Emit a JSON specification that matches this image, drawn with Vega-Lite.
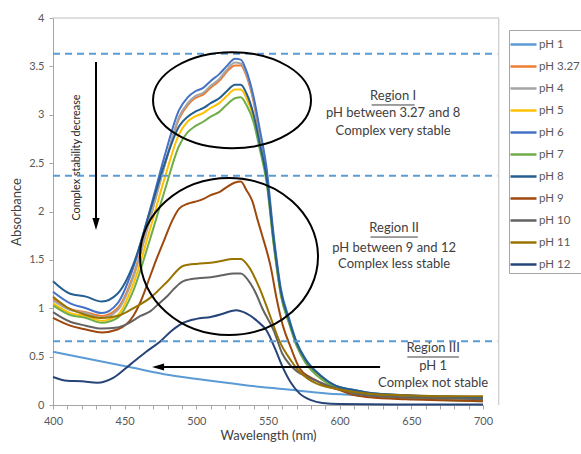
{
  "$schema": "https://vega.github.io/schema/vega-lite/v6.json",
  "width": 430,
  "height": 387,
  "autosize": "none",
  "padding": {"left": 53, "top": 18, "right": 98, "bottom": 49},
  "background": "white",
  "config": {"view": {"stroke": null}, "font": "Lato"},
  "resolve": {"axis": {"x": "independent", "y": "independent"}},
  "datasets": {
    "spectra": [
      {"s":"pH 1","w":400,"a":0.55},{"s":"pH 1","w":427,"a":0.47},{"s":"pH 1","w":454,"a":0.39},{"s":"pH 1","w":481,"a":0.31},{"s":"pH 1","w":510,"a":0.25},{"s":"pH 1","w":537,"a":0.2},{"s":"pH 1","w":564,"a":0.16},{"s":"pH 1","w":591,"a":0.12},{"s":"pH 1","w":619,"a":0.1},{"s":"pH 1","w":673,"a":0.08},{"s":"pH 1","w":700,"a":0.07},

      {"s":"pH 3.27","w":400,"a":1.1},{"s":"pH 3.27","w":412,"a":0.99},{"s":"pH 3.27","w":423,"a":0.96},{"s":"pH 3.27","w":434,"a":0.92},{"s":"pH 3.27","w":445,"a":1.0},{"s":"pH 3.27","w":456,"a":1.34},{"s":"pH 3.27","w":467,"a":1.9},{"s":"pH 3.27","w":478,"a":2.48},{"s":"pH 3.27","w":488,"a":2.96},{"s":"pH 3.27","w":494,"a":3.1},{"s":"pH 3.27","w":499,"a":3.17},{"s":"pH 3.27","w":505,"a":3.21},{"s":"pH 3.27","w":510,"a":3.28},{"s":"pH 3.27","w":516,"a":3.35},{"s":"pH 3.27","w":521,"a":3.44},{"s":"pH 3.27","w":527,"a":3.51},{"s":"pH 3.27","w":531,"a":3.51},{"s":"pH 3.27","w":535,"a":3.4},{"s":"pH 3.27","w":540,"a":3.13},{"s":"pH 3.27","w":544,"a":2.8},{"s":"pH 3.27","w":549,"a":2.38},{"s":"pH 3.27","w":554,"a":1.68},{"s":"pH 3.27","w":559,"a":1.15},{"s":"pH 3.27","w":565,"a":0.84},{"s":"pH 3.27","w":570,"a":0.62},{"s":"pH 3.27","w":576,"a":0.45},{"s":"pH 3.27","w":587,"a":0.28},{"s":"pH 3.27","w":597,"a":0.19},{"s":"pH 3.27","w":608,"a":0.14},{"s":"pH 3.27","w":619,"a":0.11},{"s":"pH 3.27","w":646,"a":0.08},{"s":"pH 3.27","w":673,"a":0.06},{"s":"pH 3.27","w":700,"a":0.05},

      {"s":"pH 4","w":400,"a":1.08},{"s":"pH 4","w":412,"a":0.98},{"s":"pH 4","w":423,"a":0.95},{"s":"pH 4","w":434,"a":0.9},{"s":"pH 4","w":445,"a":0.98},{"s":"pH 4","w":456,"a":1.32},{"s":"pH 4","w":467,"a":1.88},{"s":"pH 4","w":478,"a":2.48},{"s":"pH 4","w":488,"a":2.98},{"s":"pH 4","w":494,"a":3.12},{"s":"pH 4","w":499,"a":3.19},{"s":"pH 4","w":505,"a":3.23},{"s":"pH 4","w":510,"a":3.3},{"s":"pH 4","w":516,"a":3.37},{"s":"pH 4","w":521,"a":3.46},{"s":"pH 4","w":527,"a":3.54},{"s":"pH 4","w":531,"a":3.53},{"s":"pH 4","w":535,"a":3.42},{"s":"pH 4","w":540,"a":3.15},{"s":"pH 4","w":544,"a":2.83},{"s":"pH 4","w":549,"a":2.4},{"s":"pH 4","w":554,"a":1.7},{"s":"pH 4","w":559,"a":1.16},{"s":"pH 4","w":565,"a":0.85},{"s":"pH 4","w":570,"a":0.63},{"s":"pH 4","w":576,"a":0.46},{"s":"pH 4","w":587,"a":0.29},{"s":"pH 4","w":597,"a":0.2},{"s":"pH 4","w":608,"a":0.15},{"s":"pH 4","w":619,"a":0.12},{"s":"pH 4","w":646,"a":0.09},{"s":"pH 4","w":673,"a":0.07},{"s":"pH 4","w":700,"a":0.06},

      {"s":"pH 5","w":400,"a":1.05},{"s":"pH 5","w":412,"a":0.95},{"s":"pH 5","w":423,"a":0.92},{"s":"pH 5","w":434,"a":0.87},{"s":"pH 5","w":445,"a":0.93},{"s":"pH 5","w":456,"a":1.25},{"s":"pH 5","w":467,"a":1.78},{"s":"pH 5","w":478,"a":2.35},{"s":"pH 5","w":488,"a":2.8},{"s":"pH 5","w":494,"a":2.93},{"s":"pH 5","w":499,"a":2.98},{"s":"pH 5","w":505,"a":3.02},{"s":"pH 5","w":510,"a":3.07},{"s":"pH 5","w":516,"a":3.12},{"s":"pH 5","w":521,"a":3.19},{"s":"pH 5","w":527,"a":3.26},{"s":"pH 5","w":531,"a":3.26},{"s":"pH 5","w":535,"a":3.17},{"s":"pH 5","w":540,"a":2.97},{"s":"pH 5","w":544,"a":2.7},{"s":"pH 5","w":549,"a":2.33},{"s":"pH 5","w":554,"a":1.68},{"s":"pH 5","w":559,"a":1.15},{"s":"pH 5","w":565,"a":0.85},{"s":"pH 5","w":570,"a":0.63},{"s":"pH 5","w":576,"a":0.46},{"s":"pH 5","w":587,"a":0.29},{"s":"pH 5","w":597,"a":0.2},{"s":"pH 5","w":608,"a":0.15},{"s":"pH 5","w":619,"a":0.12},{"s":"pH 5","w":646,"a":0.09},{"s":"pH 5","w":673,"a":0.07},{"s":"pH 5","w":700,"a":0.05},

      {"s":"pH 6","w":400,"a":1.17},{"s":"pH 6","w":412,"a":1.05},{"s":"pH 6","w":423,"a":1.0},{"s":"pH 6","w":434,"a":0.95},{"s":"pH 6","w":445,"a":1.05},{"s":"pH 6","w":456,"a":1.42},{"s":"pH 6","w":467,"a":1.98},{"s":"pH 6","w":478,"a":2.58},{"s":"pH 6","w":488,"a":3.05},{"s":"pH 6","w":494,"a":3.18},{"s":"pH 6","w":499,"a":3.24},{"s":"pH 6","w":505,"a":3.28},{"s":"pH 6","w":510,"a":3.35},{"s":"pH 6","w":516,"a":3.42},{"s":"pH 6","w":521,"a":3.5},{"s":"pH 6","w":527,"a":3.58},{"s":"pH 6","w":531,"a":3.57},{"s":"pH 6","w":535,"a":3.45},{"s":"pH 6","w":540,"a":3.18},{"s":"pH 6","w":544,"a":2.87},{"s":"pH 6","w":549,"a":2.45},{"s":"pH 6","w":554,"a":1.75},{"s":"pH 6","w":559,"a":1.2},{"s":"pH 6","w":565,"a":0.88},{"s":"pH 6","w":570,"a":0.65},{"s":"pH 6","w":576,"a":0.48},{"s":"pH 6","w":587,"a":0.3},{"s":"pH 6","w":597,"a":0.2},{"s":"pH 6","w":608,"a":0.16},{"s":"pH 6","w":619,"a":0.13},{"s":"pH 6","w":646,"a":0.1},{"s":"pH 6","w":673,"a":0.08},{"s":"pH 6","w":700,"a":0.07},

      {"s":"pH 7","w":400,"a":1.03},{"s":"pH 7","w":412,"a":0.93},{"s":"pH 7","w":423,"a":0.9},{"s":"pH 7","w":434,"a":0.85},{"s":"pH 7","w":445,"a":0.9},{"s":"pH 7","w":456,"a":1.18},{"s":"pH 7","w":467,"a":1.68},{"s":"pH 7","w":478,"a":2.22},{"s":"pH 7","w":488,"a":2.68},{"s":"pH 7","w":494,"a":2.82},{"s":"pH 7","w":499,"a":2.88},{"s":"pH 7","w":505,"a":2.93},{"s":"pH 7","w":510,"a":2.98},{"s":"pH 7","w":516,"a":3.03},{"s":"pH 7","w":521,"a":3.1},{"s":"pH 7","w":527,"a":3.17},{"s":"pH 7","w":531,"a":3.18},{"s":"pH 7","w":535,"a":3.1},{"s":"pH 7","w":540,"a":2.92},{"s":"pH 7","w":544,"a":2.66},{"s":"pH 7","w":549,"a":2.3},{"s":"pH 7","w":554,"a":1.65},{"s":"pH 7","w":559,"a":1.13},{"s":"pH 7","w":565,"a":0.83},{"s":"pH 7","w":570,"a":0.61},{"s":"pH 7","w":576,"a":0.44},{"s":"pH 7","w":587,"a":0.27},{"s":"pH 7","w":597,"a":0.18},{"s":"pH 7","w":608,"a":0.13},{"s":"pH 7","w":619,"a":0.1},{"s":"pH 7","w":646,"a":0.07},{"s":"pH 7","w":673,"a":0.05},{"s":"pH 7","w":700,"a":0.04},

      {"s":"pH 8","w":400,"a":1.28},{"s":"pH 8","w":412,"a":1.15},{"s":"pH 8","w":423,"a":1.12},{"s":"pH 8","w":434,"a":1.07},{"s":"pH 8","w":445,"a":1.15},{"s":"pH 8","w":456,"a":1.45},{"s":"pH 8","w":467,"a":1.97},{"s":"pH 8","w":478,"a":2.5},{"s":"pH 8","w":488,"a":2.88},{"s":"pH 8","w":494,"a":2.98},{"s":"pH 8","w":499,"a":3.03},{"s":"pH 8","w":505,"a":3.07},{"s":"pH 8","w":510,"a":3.12},{"s":"pH 8","w":516,"a":3.17},{"s":"pH 8","w":521,"a":3.24},{"s":"pH 8","w":527,"a":3.31},{"s":"pH 8","w":531,"a":3.31},{"s":"pH 8","w":535,"a":3.22},{"s":"pH 8","w":540,"a":3.0},{"s":"pH 8","w":544,"a":2.72},{"s":"pH 8","w":549,"a":2.35},{"s":"pH 8","w":554,"a":1.7},{"s":"pH 8","w":559,"a":1.17},{"s":"pH 8","w":565,"a":0.86},{"s":"pH 8","w":570,"a":0.64},{"s":"pH 8","w":576,"a":0.47},{"s":"pH 8","w":587,"a":0.3},{"s":"pH 8","w":597,"a":0.2},{"s":"pH 8","w":608,"a":0.16},{"s":"pH 8","w":619,"a":0.13},{"s":"pH 8","w":646,"a":0.1},{"s":"pH 8","w":673,"a":0.09},{"s":"pH 8","w":700,"a":0.08},

      {"s":"pH 9","w":400,"a":0.9},{"s":"pH 9","w":412,"a":0.82},{"s":"pH 9","w":423,"a":0.78},{"s":"pH 9","w":434,"a":0.75},{"s":"pH 9","w":445,"a":0.78},{"s":"pH 9","w":456,"a":0.92},{"s":"pH 9","w":462,"a":1.1},{"s":"pH 9","w":467,"a":1.3},{"s":"pH 9","w":472,"a":1.5},{"s":"pH 9","w":478,"a":1.72},{"s":"pH 9","w":483,"a":1.9},{"s":"pH 9","w":488,"a":2.03},{"s":"pH 9","w":494,"a":2.08},{"s":"pH 9","w":499,"a":2.1},{"s":"pH 9","w":505,"a":2.13},{"s":"pH 9","w":510,"a":2.17},{"s":"pH 9","w":516,"a":2.2},{"s":"pH 9","w":521,"a":2.25},{"s":"pH 9","w":527,"a":2.3},{"s":"pH 9","w":531,"a":2.31},{"s":"pH 9","w":535,"a":2.22},{"s":"pH 9","w":539,"a":2.11},{"s":"pH 9","w":543,"a":1.9},{"s":"pH 9","w":546,"a":1.75},{"s":"pH 9","w":552,"a":1.42},{"s":"pH 9","w":556,"a":1.1},{"s":"pH 9","w":560,"a":0.84},{"s":"pH 9","w":566,"a":0.59},{"s":"pH 9","w":572,"a":0.38},{"s":"pH 9","w":579,"a":0.29},{"s":"pH 9","w":584,"a":0.25},{"s":"pH 9","w":592,"a":0.19},{"s":"pH 9","w":601,"a":0.15},{"s":"pH 9","w":608,"a":0.11},{"s":"pH 9","w":621,"a":0.08},{"s":"pH 9","w":646,"a":0.06},{"s":"pH 9","w":673,"a":0.05},{"s":"pH 9","w":700,"a":0.04},

      {"s":"pH 10","w":400,"a":0.96},{"s":"pH 10","w":412,"a":0.86},{"s":"pH 10","w":423,"a":0.82},{"s":"pH 10","w":434,"a":0.79},{"s":"pH 10","w":445,"a":0.8},{"s":"pH 10","w":452,"a":0.84},{"s":"pH 10","w":461,"a":0.92},{"s":"pH 10","w":468,"a":0.97},{"s":"pH 10","w":474,"a":1.05},{"s":"pH 10","w":480,"a":1.13},{"s":"pH 10","w":485,"a":1.21},{"s":"pH 10","w":491,"a":1.28},{"s":"pH 10","w":501,"a":1.31},{"s":"pH 10","w":510,"a":1.32},{"s":"pH 10","w":518,"a":1.34},{"s":"pH 10","w":526,"a":1.36},{"s":"pH 10","w":531,"a":1.36},{"s":"pH 10","w":538,"a":1.25},{"s":"pH 10","w":542,"a":1.14},{"s":"pH 10","w":546,"a":1.0},{"s":"pH 10","w":554,"a":0.77},{"s":"pH 10","w":560,"a":0.53},{"s":"pH 10","w":565,"a":0.42},{"s":"pH 10","w":570,"a":0.35},{"s":"pH 10","w":576,"a":0.3},{"s":"pH 10","w":584,"a":0.25},{"s":"pH 10","w":592,"a":0.2},{"s":"pH 10","w":603,"a":0.15},{"s":"pH 10","w":619,"a":0.1},{"s":"pH 10","w":646,"a":0.08},{"s":"pH 10","w":673,"a":0.07},{"s":"pH 10","w":700,"a":0.06},

      {"s":"pH 11","w":400,"a":1.12},{"s":"pH 11","w":411,"a":1.0},{"s":"pH 11","w":421,"a":0.94},{"s":"pH 11","w":433,"a":0.9},{"s":"pH 11","w":445,"a":0.92},{"s":"pH 11","w":456,"a":1.0},{"s":"pH 11","w":468,"a":1.11},{"s":"pH 11","w":480,"a":1.28},{"s":"pH 11","w":491,"a":1.44},{"s":"pH 11","w":501,"a":1.46},{"s":"pH 11","w":510,"a":1.47},{"s":"pH 11","w":518,"a":1.49},{"s":"pH 11","w":525,"a":1.51},{"s":"pH 11","w":531,"a":1.51},{"s":"pH 11","w":537,"a":1.42},{"s":"pH 11","w":544,"a":1.21},{"s":"pH 11","w":551,"a":0.94},{"s":"pH 11","w":558,"a":0.66},{"s":"pH 11","w":566,"a":0.46},{"s":"pH 11","w":571,"a":0.36},{"s":"pH 11","w":577,"a":0.28},{"s":"pH 11","w":584,"a":0.22},{"s":"pH 11","w":593,"a":0.18},{"s":"pH 11","w":608,"a":0.14},{"s":"pH 11","w":619,"a":0.12},{"s":"pH 11","w":646,"a":0.1},{"s":"pH 11","w":673,"a":0.09},{"s":"pH 11","w":700,"a":0.09},

      {"s":"pH 12","w":400,"a":0.29},{"s":"pH 12","w":410,"a":0.25},{"s":"pH 12","w":420,"a":0.245},{"s":"pH 12","w":431,"a":0.23},{"s":"pH 12","w":442,"a":0.28},{"s":"pH 12","w":454,"a":0.42},{"s":"pH 12","w":465,"a":0.55},{"s":"pH 12","w":475,"a":0.66},{"s":"pH 12","w":483,"a":0.77},{"s":"pH 12","w":491,"a":0.85},{"s":"pH 12","w":500,"a":0.89},{"s":"pH 12","w":510,"a":0.91},{"s":"pH 12","w":518,"a":0.94},{"s":"pH 12","w":524,"a":0.97},{"s":"pH 12","w":528,"a":0.98},{"s":"pH 12","w":533,"a":0.96},{"s":"pH 12","w":538,"a":0.92},{"s":"pH 12","w":543,"a":0.86},{"s":"pH 12","w":549,"a":0.77},{"s":"pH 12","w":555,"a":0.58},{"s":"pH 12","w":560,"a":0.4},{"s":"pH 12","w":566,"a":0.23},{"s":"pH 12","w":572,"a":0.12},{"s":"pH 12","w":580,"a":0.05},{"s":"pH 12","w":588,"a":0.02},{"s":"pH 12","w":600,"a":0.01},{"s":"pH 12","w":650,"a":0.005},{"s":"pH 12","w":700,"a":0.005}
    ],
    "frame": [
      {"x1": 400, "x2": 711, "y1": 4, "y2": 4},
      {"x1": 711, "x2": 711, "y1": 0, "y2": 4}
    ],
    "dashes": [
      {"x1": 400, "x2": 710, "y1": 3.63, "y2": 3.63},
      {"x1": 400, "x2": 710, "y1": 2.37, "y2": 2.37},
      {"x1": 400, "x2": 710, "y1": 0.66, "y2": 0.66}
    ],
    "arrows": [
      {"x1": 430, "x2": 430, "y1": 3.545, "y2": 1.871},
      {"x1": 628.2, "x2": 473.3, "y1": 0.393, "y2": 0.393}
    ],
    "underlines": [
      {"x1": 622.3, "x2": 652.3, "y1": 3.101, "y2": 3.101},
      {"x1": 621.5, "x2": 654.5, "y1": 1.736, "y2": 1.736},
      {"x1": 647.2, "x2": 683.2, "y1": 0.496, "y2": 0.496}
    ],
    "labels": [
      {"w": 637.3, "a": 3.194, "t": "Region I"},
      {"w": 637.3, "a": 3.018, "t": "pH between 3.27 and 8"},
      {"w": 637.3, "a": 2.832, "t": "Complex very stable"},
      {"w": 638.0, "a": 1.829, "t": "Region II"},
      {"w": 638.0, "a": 1.623, "t": "pH between 9 and 12"},
      {"w": 638.0, "a": 1.457, "t": "Complex less stable"},
      {"w": 665.2, "a": 0.589, "t": "Region III"},
      {"w": 665.2, "a": 0.403, "t": "pH 1"},
      {"w": 665.2, "a": 0.227, "t": "Complex not stable"}
    ]
  },
  "layer": [
    {
      "data": {"name": "spectra"},
      "mark": {"type": "line", "strokeWidth": 2, "interpolate": "monotone"},
      "encoding": {
        "x": {
          "field": "w", "type": "quantitative",
          "scale": {"domain": [400, 700], "nice": false, "zero": false},
          "axis": {
            "orient": "bottom",
            "title": "Wavelength (nm)",
            "values": [400,410,420,430,440,450,460,470,480,490,500,510,520,530,540,550,560,570,580,590,600,610,620,630,640,650,660,670,680,690,700],
            "labelExpr": "datum.value % 50 === 0 ? datum.label : ''",
            "labelFlush": false, "labelOverlap": false, "labelBound": false, "grid": false,
            "domainColor": "#A6A6A6", "tickColor": "#A6A6A6", "tickSize": 4, "ticks": true,
            "labelPadding": 6, "labelFont": "Lato", "labelFontSize": 11, "labelColor": "#595959",
            "titleFont": "Lato", "titleFontSize": 13, "titleFontWeight": "normal", "titleColor": "#404040", "titlePadding": 3,
            "encode": {"ticks": {"update": {"y": {"value": -4}, "y2": {"value": 4}}}}
          }
        },
        "y": {
          "field": "a", "type": "quantitative",
          "scale": {"domain": [0, 4], "nice": false, "zero": false},
          "axis": {
            "orient": "left",
            "title": "Absorbance",
            "values": [0, 0.5, 1, 1.5, 2, 2.5, 3, 3.5, 4],
            "format": "~g", "grid": false, "labelOverlap": false,
            "domainColor": "#A6A6A6", "tickColor": "#A6A6A6", "tickSize": 4, "ticks": true,
            "labelPadding": 5, "labelFont": "Lato", "labelFontSize": 11, "labelColor": "#595959",
            "titleFont": "Lato", "titleFontSize": 13, "titleFontWeight": "normal", "titleColor": "#404040", "titlePadding": 5
          }
        },
        "color": {
          "field": "s", "type": "nominal",
          "scale": {
            "domain": ["pH 1","pH 3.27","pH 4","pH 5","pH 6","pH 7","pH 8","pH 9","pH 10","pH 11","pH 12"],
            "range": ["#5B9BD5","#ED7D31","#A5A5A5","#FFC000","#4472C4","#70AD47","#255E91","#9E480E","#636363","#997300","#264478"]
          },
          "legend": {
            "title": null, "orient": "none", "legendX": 456, "legendY": 12,
            "symbolType": "M-1.3,0L1.3,0", "symbolSize": 400, "symbolStrokeWidth": 2.5,
            "labelFont": "Lato", "labelFontSize": 11.5, "labelColor": "#595959", "labelOffset": 4,
            "strokeColor": "#A6A6A6", "fillColor": "white", "padding": 3, "rowPadding": 5
          }
        }
      }
    },
    {
      "data": {"name": "frame"},
      "mark": {"type": "rule", "color": "#BFBFBF", "strokeWidth": 1},
      "encoding": {
        "x": {"field": "x1", "type": "quantitative", "scale": {"domain": [400, 700], "nice": false, "zero": false}, "axis": null},
        "x2": {"field": "x2"},
        "y": {"field": "y1", "type": "quantitative", "scale": {"domain": [0, 4], "nice": false, "zero": false}, "axis": null},
        "y2": {"field": "y2"}
      }
    },
    {
      "data": {"name": "dashes"},
      "mark": {"type": "rule", "color": "#5B9BD5", "strokeWidth": 2, "strokeDash": [7, 5]},
      "encoding": {
        "x": {"field": "x1", "type": "quantitative", "scale": {"domain": [400, 700], "nice": false, "zero": false}, "axis": null},
        "x2": {"field": "x2"},
        "y": {"field": "y1", "type": "quantitative", "scale": {"domain": [0, 4], "nice": false, "zero": false}, "axis": null},
        "y2": {"field": "y2"}
      }
    },
    {
      "data": {"values": [{"w": 524.9, "a": 3.15}]},
      "mark": {"type": "point", "shape": "M-1,0 C-1,-0.336 -0.552,-0.608 0,-0.608 C0.552,-0.608 1,-0.336 1,0 C1,0.336 0.552,0.608 0,0.608 C-0.552,0.608 -1,0.336 -1,0 Z", "size": 24964, "filled": false, "stroke": "black", "strokeWidth": 2, "opacity": 1},
      "encoding": {
        "x": {"field": "w", "type": "quantitative", "scale": {"domain": [400, 700], "nice": false, "zero": false}, "axis": null},
        "y": {"field": "a", "type": "quantitative", "scale": {"domain": [0, 4], "nice": false, "zero": false}, "axis": null}
      }
    },
    {
      "data": {"values": [{"w": 522.8, "a": 1.535}]},
      "mark": {"type": "point", "shape": "M-1,0 C-1,-0.487 -0.552,-0.882 0,-0.882 C0.552,-0.882 1,-0.487 1,0 C1,0.487 0.552,0.882 0,0.882 C-0.552,0.882 -1,0.487 -1,0 Z", "size": 31684, "filled": false, "stroke": "black", "strokeWidth": 2, "opacity": 1},
      "encoding": {
        "x": {"field": "w", "type": "quantitative", "scale": {"domain": [400, 700], "nice": false, "zero": false}, "axis": null},
        "y": {"field": "a", "type": "quantitative", "scale": {"domain": [0, 4], "nice": false, "zero": false}, "axis": null}
      }
    },
    {
      "data": {"name": "arrows"},
      "mark": {"type": "rule", "color": "black", "strokeWidth": 2},
      "encoding": {
        "x": {"field": "x1", "type": "quantitative", "scale": {"domain": [400, 700], "nice": false, "zero": false}, "axis": null},
        "x2": {"field": "x2"},
        "y": {"field": "y1", "type": "quantitative", "scale": {"domain": [0, 4], "nice": false, "zero": false}, "axis": null},
        "y2": {"field": "y2"}
      }
    },
    {
      "data": {"values": [{"w": 430, "a": 1.871}]},
      "mark": {"type": "point", "shape": "M-0.6,-1 L0.6,-1 L0,1 Z", "size": 144, "filled": true, "color": "black", "opacity": 1},
      "encoding": {
        "x": {"field": "w", "type": "quantitative", "scale": {"domain": [400, 700], "nice": false, "zero": false}, "axis": null},
        "y": {"field": "a", "type": "quantitative", "scale": {"domain": [0, 4], "nice": false, "zero": false}, "axis": null}
      }
    },
    {
      "data": {"values": [{"w": 473.3, "a": 0.393}]},
      "mark": {"type": "point", "shape": "M1,-0.6 L1,0.6 L-1,0 Z", "size": 144, "filled": true, "color": "black", "opacity": 1},
      "encoding": {
        "x": {"field": "w", "type": "quantitative", "scale": {"domain": [400, 700], "nice": false, "zero": false}, "axis": null},
        "y": {"field": "a", "type": "quantitative", "scale": {"domain": [0, 4], "nice": false, "zero": false}, "axis": null}
      }
    },
    {
      "data": {"name": "labels"},
      "mark": {"type": "text", "font": "Lato", "fontSize": 13, "color": "#404040", "align": "center", "baseline": "middle"},
      "encoding": {
        "x": {"field": "w", "type": "quantitative", "scale": {"domain": [400, 700], "nice": false, "zero": false}, "axis": null},
        "y": {"field": "a", "type": "quantitative", "scale": {"domain": [0, 4], "nice": false, "zero": false}, "axis": null},
        "text": {"field": "t"}
      }
    },
    {
      "data": {"name": "underlines"},
      "mark": {"type": "rule", "color": "#404040", "strokeWidth": 1},
      "encoding": {
        "x": {"field": "x1", "type": "quantitative", "scale": {"domain": [400, 700], "nice": false, "zero": false}, "axis": null},
        "x2": {"field": "x2"},
        "y": {"field": "y1", "type": "quantitative", "scale": {"domain": [0, 4], "nice": false, "zero": false}, "axis": null},
        "y2": {"field": "y2"}
      }
    },
    {
      "data": {"values": [{"w": 416.7, "a": 2.558, "t": "Complex stability decrease"}]},
      "mark": {"type": "text", "font": "Lato", "fontSize": 10.8, "color": "#262626", "align": "center", "baseline": "middle", "angle": 270},
      "encoding": {
        "x": {"field": "w", "type": "quantitative", "scale": {"domain": [400, 700], "nice": false, "zero": false}, "axis": null},
        "y": {"field": "a", "type": "quantitative", "scale": {"domain": [0, 4], "nice": false, "zero": false}, "axis": null},
        "text": {"field": "t"}
      }
    }
  ]
}
